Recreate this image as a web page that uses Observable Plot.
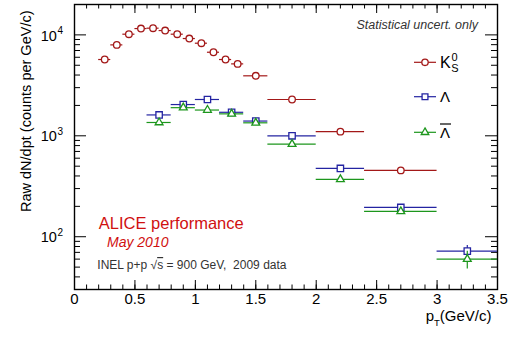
<!DOCTYPE html>
<html><head><meta charset="utf-8">
<script src="https://cdn.jsdelivr.net/npm/d3@7"></script>
<script src="https://cdn.jsdelivr.net/npm/@observablehq/plot@0.6"></script>
<style>
html,body{margin:0;padding:0;background:#fff;}
#chart svg{display:block;}
</style></head><body><div id="chart"></div>
<script>
// ---- data ----
const k0sLow   = [0.2,0.3,0.4,0.5,0.6,0.7,0.8,0.9,1.0,1.1,1.2,1.3,1.4,1.6,2.0,2.4];
const k0sHigh  = [0.3,0.4,0.5,0.6,0.7,0.8,0.9,1.0,1.1,1.2,1.3,1.4,1.6,2.0,2.4,3.0];
const k0sYield = [5700,7960,10160,11550,11650,11040,10160,9200,8270,6730,5700,5160,3930,2290,1100,454];
const k0sErr   = [80,100,110,120,120,115,110,100,95,85,80,75,55,35,20,12];

const lamLow   = [0.6,0.8,1.0,1.2,1.4,1.6,2.0,2.4,3.0];
const lamHigh  = [0.8,1.0,1.2,1.4,1.6,2.0,2.4,3.0,3.5];
const lamYield = [1610,2040,2290,1710,1400,1000,475,195,72];
const lamErr   = [60,55,55,45,35,25,18,9,10];

const alamYield = [1355,1900,1800,1650,1345,828,370,178,60];
const alamErr   = [55,50,50,40,35,25,16,9,12];

const xDomain = [0, 3.5];
const yDomain = [30, 20000];
const xMajorTicks = [0,0.5,1,1.5,2,2.5,3,3.5];
const xMinorTicks = d3.range(0, 36).map(i => i / 10);
const yMajorTicks = [100, 1000, 10000];
const yMinorTicks = [10,100,1000,10000].flatMap(d => [2,3,4,5,6,7,8,9].map(m => m * d)).filter(v => v > yDomain[0] && v < yDomain[1]);
const yLabel = "Raw dN/dpt (counts per GeV/c)";

// ---- build tables ----
const mk = (lo, hi, v, e) => lo.map((l, i) => ({lo: l, hi: hi[i], pt: (l + hi[i]) / 2, v: v[i], e: e[i]}));
const kData = mk(k0sLow, k0sHigh, k0sYield, k0sErr);
const lData = mk(lamLow, lamHigh, lamYield, lamErr);
const aData = mk(lamLow, lamHigh, alamYield, alamErr);

const W = 518, H = 338, mL = 74, mR = 21, mT = 4, mB = 49;
const innerH = H - mT - mB, innerW = W - mL - mR;
const red = "#a31818", blue = "#2424a2", green = "#1c961c";
const font = "'Liberation Sans', Arial, Helvetica, sans-serif";

function series(data, color, dotOpts) {
  return [
    Plot.ruleY(data, {y: "v", x1: "lo", x2: "hi", stroke: color, strokeWidth: 1.2}),
    Plot.ruleX(data, {x: "pt", y1: d => d.v - d.e, y2: d => d.v + d.e, stroke: color, strokeWidth: 1.2}),
    Plot.dot(data, {x: "pt", y: "v", stroke: color, fill: "#fff", strokeWidth: 1.3, ...dotOpts})
  ];
}

const chart = Plot.plot({
  width: W, height: H,
  marginLeft: mL, marginRight: mR, marginTop: mT, marginBottom: mB,
  style: {fontFamily: font, background: "#fff", color: "#000"},
  x: {domain: xDomain, axis: null},
  y: {type: "log", domain: yDomain, axis: null},
  marks: [
    // inward ticks
    Plot.tickX(xMinorTicks, {x: d => d, insetTop: innerH - 4.5, stroke: "#000"}),
    Plot.tickX(xMajorTicks, {x: d => d, insetTop: innerH - 9, stroke: "#000"}),
    Plot.tickX(xMinorTicks, {x: d => d, insetBottom: innerH - 4.5, stroke: "#000"}),
    Plot.tickX(xMajorTicks, {x: d => d, insetBottom: innerH - 9, stroke: "#000"}),
    Plot.tickY(yMinorTicks, {y: d => d, insetRight: innerW - 6, stroke: "#000"}),
    Plot.tickY(yMajorTicks, {y: d => d, insetRight: innerW - 12, stroke: "#000"}),
    Plot.tickY(yMinorTicks, {y: d => d, insetLeft: innerW - 6, stroke: "#000"}),
    Plot.tickY(yMajorTicks, {y: d => d, insetLeft: innerW - 12, stroke: "#000"}),
    Plot.frame({stroke: "#000", strokeWidth: 1.4}),
    // tick labels
    Plot.text(xMajorTicks, {x: d => d, frameAnchor: "bottom", dy: 14, text: d => String(d), fontSize: 15, fill: "#000"}),
    Plot.text(yMajorTicks, {y: d => d, frameAnchor: "left", dx: -17.7, dy: 1, textAnchor: "end", text: () => "10", fontSize: 14.5, fill: "#000"}),
    Plot.text(yMajorTicks, {y: d => d, frameAnchor: "left", dx: -17, dy: -4, textAnchor: "start", text: d => String(Math.round(Math.log10(d))), fontSize: 10, fill: "#000"}),
    Plot.text([yLabel], {frameAnchor: "top-left", rotate: -90, textAnchor: "end", dx: -54, dy: 6, text: d => d, fontSize: 14.5, fill: "#000"}),
    // data
    ...series(kData, red, {r: 3.3}),
    ...series(lData, blue, {symbol: "square", r: 3.6}),
    ...series(aData, green, {symbol: "triangle", r: 2.9}),
    // annotations
    Plot.text(["Statistical uncert. only"], {frameAnchor: "top-right", textAnchor: "end", lineAnchor: "bottom", dx: -19.5, dy: 24, text: d => d, fontSize: 12.5, fontStyle: "italic", fill: "#333"}),
    Plot.text(["ALICE performance"], {frameAnchor: "bottom-left", textAnchor: "start", lineAnchor: "bottom", dx: 24.3, dy: -60.7, text: d => d, fontSize: 16.5, fill: "#d01010"}),
    Plot.text(["May 2010"], {frameAnchor: "bottom-left", textAnchor: "start", lineAnchor: "bottom", dx: 32.5, dy: -43, text: d => d, fontSize: 14, fontStyle: "italic", fill: "#d01010"})
  ]
});

document.getElementById("chart").appendChild(chart);
const svg = d3.select(chart);
const xs = chart.scale("x");

// INEL text with overline on s
const inel = svg.append("text").attr("x", mL + 23.3).attr("y", 269).attr("text-anchor", "start")
  .attr("font-size", 12).attr("fill", "#333").attr("font-family", font).style("white-space", "pre");
inel.append("tspan").text("INEL p+p ");
inel.append("tspan").text("\u221A");
inel.append("tspan").text("s").style("text-decoration", "overline");
inel.append("tspan").text(" = 900 GeV,  2009 data");

// x-axis title p_T(GeV/c)
const xt = svg.append("text").attr("x", xs.apply(3.5) - 5.5).attr("y", 321)
  .attr("text-anchor", "end").attr("font-size", 15).attr("font-family", font).attr("fill", "#000");
xt.append("tspan").text("p");
xt.append("tspan").text("T").attr("font-size", 9.5).attr("dy", 5);
xt.append("tspan").text("(GeV/c)").attr("dy", -5);

// legend
const legendItems = [
  {color: red, symbol: d3.symbolCircle, size: Math.PI * 3.2 * 3.2, y: 62.3},
  {color: blue, symbol: d3.symbolSquare, size: Math.PI * 3.3 * 3.3, y: 96.7},
  {color: green, symbol: d3.symbolTriangle, size: Math.PI * 2.8 * 2.8, y: 132.3}
];
const lg = svg.append("g").attr("font-family", font).attr("text-anchor", "start").attr("fill", "#000");
legendItems.forEach(it => {
  lg.append("line").attr("x1", 414).attr("x2", 436).attr("y1", it.y).attr("y2", it.y)
    .attr("stroke", it.color).attr("stroke-width", 1.2);
  lg.append("path").attr("d", d3.symbol(it.symbol, it.size)()).attr("transform", `translate(425,${it.y})`)
    .attr("fill", "#fff").attr("stroke", it.color).attr("stroke-width", 1.3);
});
lg.append("text").attr("x", 440).attr("y", 68.3).attr("font-size", 16).text("K");
lg.append("text").attr("x", 451.5).attr("y", 60.5).attr("font-size", 11).text("0");
lg.append("text").attr("x", 451.3).attr("y", 71.8).attr("font-size", 11).text("S");
lg.append("text").attr("x", 440).attr("y", 101.7).attr("font-size", 15).text("\u039B");
lg.append("text").attr("x", 440).attr("y", 138.3).attr("font-size", 15).text("\u039B");
lg.append("line").attr("x1", 440).attr("x2", 451).attr("y1", 124).attr("y2", 124).attr("stroke", "#000").attr("stroke-width", 1.2);
</script>
</body></html>
